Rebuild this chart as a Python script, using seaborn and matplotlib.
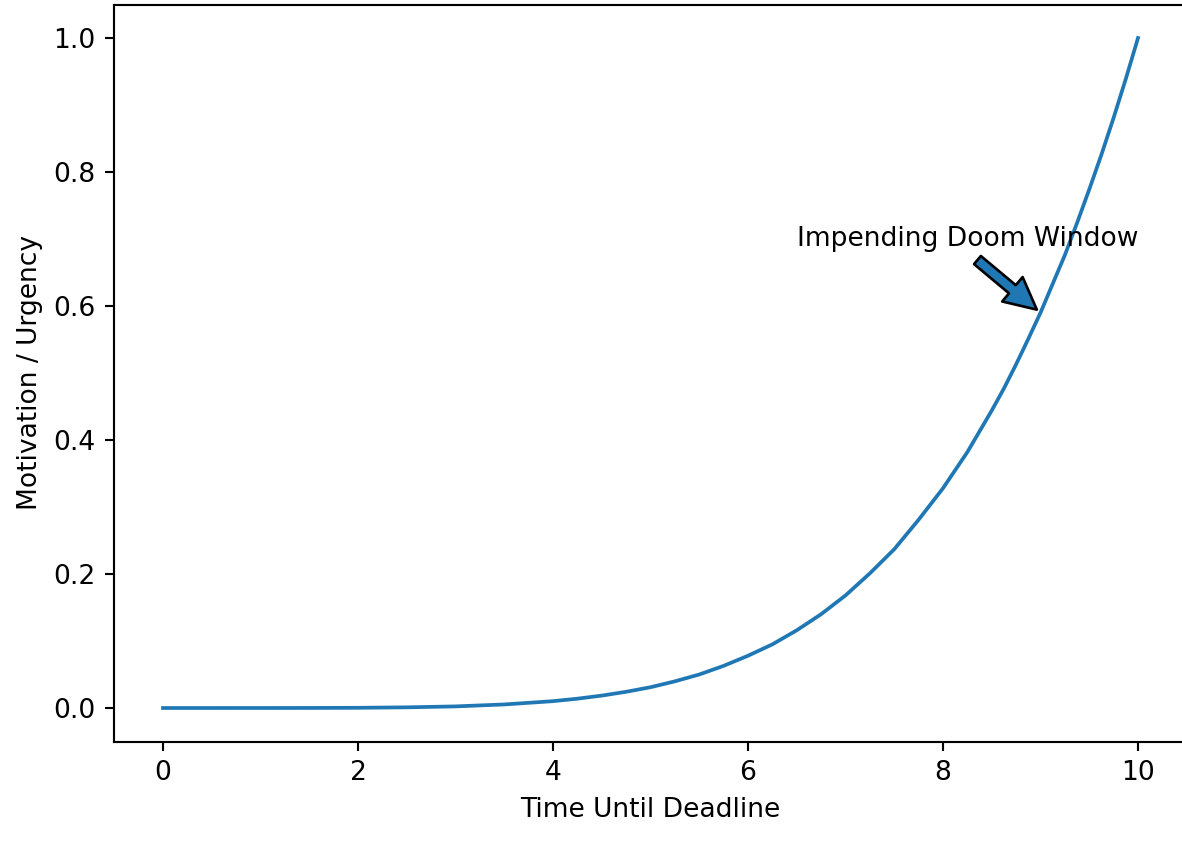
import matplotlib
matplotlib.use("Agg")
import matplotlib.pyplot as plt
import seaborn as sns
import pandas as pd

# values
time_until_deadline = [0.0, 0.5, 1.0, 1.5, 2.0, 2.5, 3.0, 3.5, 4.0, 4.25, 4.5,
                       4.75, 5.0, 5.25, 5.5, 5.75, 6.0, 6.25, 6.5, 6.75, 7.0,
                       7.25, 7.5, 7.75, 8.0, 8.25, 8.5, 8.625, 8.75, 8.875,
                       9.0, 9.125, 9.25, 9.375, 9.5, 9.625, 9.75, 9.875, 10.0]
motivation = [0.0, 0.0, 0.00001, 0.00008, 0.0003, 0.001, 0.0024, 0.0053, 0.0102,
              0.0139, 0.0185, 0.0242, 0.031, 0.0398, 0.050, 0.0629, 0.078,
              0.095, 0.116, 0.140, 0.168, 0.201, 0.237, 0.281, 0.328, 0.382,
              0.444, 0.477, 0.513, 0.551, 0.590, 0.633, 0.676, 0.724, 0.774,
              0.826, 0.881, 0.939, 1.0]

annot_text = "Impending Doom Window"
annot_xy = (9.0, 0.59)
annot_text_xy = (6.5, 0.69)

df = pd.DataFrame({"Time Until Deadline": time_until_deadline,
                   "Motivation / Urgency": motivation})

dpi = 191
fig = plt.figure(figsize=(1182 / dpi, 843 / dpi), dpi=dpi)
ax = fig.add_axes([114.25 / 1182, (843 - 741.5) / 843,
                   (1186.75 - 114.25) / 1182, (741.5 - 4.5) / 843])

sns.lineplot(data=df, x="Time Until Deadline", y="Motivation / Urgency",
             ax=ax, color="#1f77b4", linewidth=1.4)
ax.set_xlim(-0.5, 10.5)
ax.set_ylim(-0.05, 1.05)

ax.annotate(annot_text, xy=annot_xy, xytext=annot_text_xy,
            arrowprops=dict(facecolor="#1f77b4", shrink=0.05))

fig.savefig("out.png", dpi=dpi)
